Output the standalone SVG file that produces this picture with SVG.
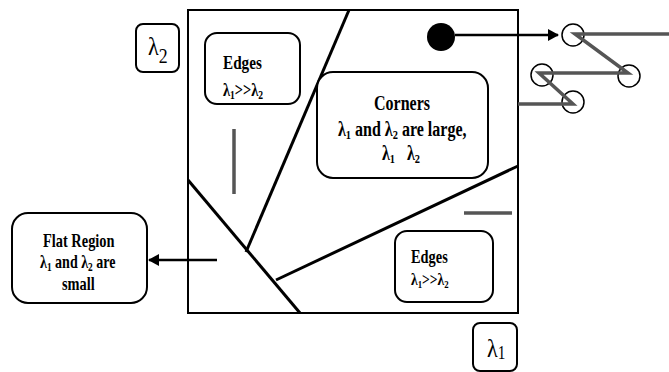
<svg xmlns="http://www.w3.org/2000/svg" width="669" height="372" viewBox="0 0 669 372">
<defs>
<style>
.box{fill:#fff;stroke:#000;stroke-width:2}
.div{stroke:#000;stroke-width:3;fill:none}
.grey{stroke:#555;stroke-width:3.5;fill:none}
.ring{fill:none;stroke:#000;stroke-width:1.5}
.t{font-family:"Liberation Serif","Times New Roman",serif;font-weight:bold;fill:#000}
.lam{font-family:"Liberation Serif","Times New Roman",serif;fill:#000}
</style>
<marker id="ah" markerWidth="12" markerHeight="12" refX="10" refY="6" orient="auto" markerUnits="userSpaceOnUse">
<path d="M0,0 L11,6 L0,12 Z" fill="#000"/>
</marker>
</defs>
<rect width="669" height="372" fill="#fff"/>

<g id="plane">
<rect x="188" y="10" width="330" height="303" fill="none" stroke="#000" stroke-width="2"/>
<line class="div" x1="349" y1="10" x2="246" y2="252"/>
<line class="div" x1="188" y1="180" x2="300" y2="313"/>
<line class="div" x1="276" y1="280" x2="518" y2="166"/>
<line class="grey" x1="234" y1="129" x2="234" y2="194"/>
<line class="grey" x1="464" y1="213" x2="512" y2="213"/>
<circle cx="441" cy="37" r="14" fill="#000"/>
</g>

<g id="lambda2">
<rect class="box" x="136" y="24" width="43" height="48" rx="7"/>
<text class="lam" transform="translate(148,55) scale(0.85,1)" font-size="26">λ<tspan font-size="21" dy="8">2</tspan></text>
</g>

<g id="lambda1">
<rect class="box" x="473" y="323" width="44" height="48" rx="7"/>
<text class="lam" transform="translate(487,357) scale(0.85,1)" font-size="26">λ<tspan font-size="18" dy="2">1</tspan></text>
</g>

<g id="edges-top">
<rect class="box" x="205" y="33" width="95" height="71" rx="12"/>
<text class="t" transform="translate(223,69) scale(0.8,1)" font-size="19">Edges</text>
<text class="t" transform="translate(223,96) scale(0.8,1)" font-size="18">λ<tspan font-size="12" dy="3">1</tspan><tspan dy="-3">&gt;&gt;λ</tspan><tspan font-size="12" dy="3">2</tspan></text>
</g>

<g id="corners">
<rect class="box" x="317" y="72" width="171" height="106" rx="16"/>
<text class="t" transform="translate(374,110) scale(0.8,1)" font-size="20">Corners</text>
<text class="t" transform="translate(338,136) scale(0.8,1)" font-size="20">λ<tspan font-size="13" dy="3">1</tspan><tspan dy="-3"> and λ</tspan><tspan font-size="13" dy="3">2</tspan><tspan dy="-3"> are large,</tspan></text>
<text class="t" transform="translate(382,160) scale(0.8,1)" font-size="20">λ<tspan font-size="13" dy="3">1</tspan></text>
<text class="t" transform="translate(407,160) scale(0.8,1)" font-size="20">λ<tspan font-size="13" dy="3">2</tspan></text>
</g>

<g id="flat">
<rect class="box" x="12" y="213" width="135" height="90" rx="16"/>
<text class="t" transform="translate(43,247) scale(0.8,1)" font-size="18">Flat Region</text>
<text class="t" transform="translate(40,268) scale(0.78,1)" font-size="18">λ<tspan font-size="12" dy="3">1</tspan><tspan dy="-3"> and λ</tspan><tspan font-size="12" dy="3">2</tspan><tspan dy="-3"> are</tspan></text>
<text class="t" transform="translate(62,290) scale(0.8,1)" font-size="18">small</text>
</g>

<g id="edges-bottom">
<rect class="box" x="395" y="231" width="98" height="71" rx="12"/>
<text class="t" transform="translate(411,263) scale(0.8,1)" font-size="18">Edges</text>
<text class="t" transform="translate(411,285) scale(0.8,1)" font-size="17">λ<tspan font-size="11" dy="3">1</tspan><tspan dy="-3">&gt;&gt;λ</tspan><tspan font-size="11" dy="3">2</tspan></text>
</g>

<g id="corner-response">
<circle class="ring" cx="573" cy="35" r="11"/>
<circle class="ring" cx="629" cy="76" r="11"/>
<circle class="ring" cx="542" cy="75" r="11"/>
<circle class="ring" cx="573" cy="102" r="11"/>
<polyline class="grey" points="669,34 575,34 628,73 539,73 573,104 518,104"/>
</g>

<g id="connectors">
<line x1="455" y1="35" x2="558" y2="35" stroke="#000" stroke-width="2.5" marker-end="url(#ah)"/>
<line x1="217" y1="260" x2="149" y2="260" stroke="#000" stroke-width="2.5" marker-end="url(#ah)"/>
</g>
</svg>
